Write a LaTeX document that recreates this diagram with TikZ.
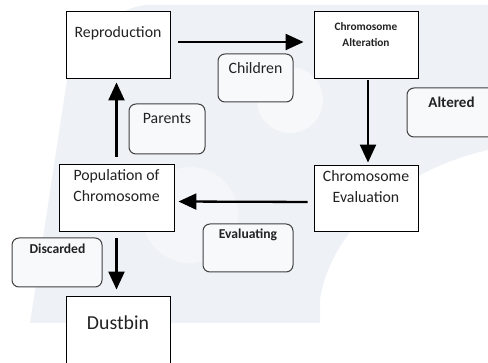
\documentclass[tikz,border=0pt]{standalone}
\usepackage{fontspec}
\setmainfont{Carlito}
\usetikzlibrary{arrows.meta}
\definecolor{wm}{HTML}{EEF1F5}
\definecolor{txt}{HTML}{222222}
\tikzset{
  box/.style={draw=black, line width=0.9pt, fill=white, inner sep=0pt},
  tag/.style={draw=black!75, line width=1pt, rounded corners=7pt, fill=wm!40, inner sep=0pt},
  lbl/.style={text=txt, inner sep=0pt, align=center, font=\fontsize{15.8}{21}\selectfont},
  slbl/.style={text=txt, inner sep=0pt, align=center, font=\bfseries\fontsize{13.6}{17}\selectfont},
  arr/.style={line width=2.3pt, -{Triangle[width=16pt,length=18pt]}},
}
\begin{document}
\begin{tikzpicture}[x=1pt,y=-1pt]
\useasboundingbox (0,0) rectangle (488,363);
% faint watermark background
\fill[wm] (145,5) -- (488,5) -- (488,150) .. controls (400,170) and (330,230) .. (320,300) -- (320,323) -- (30,323) -- (70,60) .. controls (90,30) and (120,8) .. (145,5) -- cycle;
\fill[white, opacity=0.55] (290,100) circle (33);
\fill[white, opacity=0.4] (190,215) circle (48);
% boxes
\node[box, minimum width=104pt, minimum height=67pt] (rep) at (118,44.5) {};
\node[lbl] (repT) at (118,33) {Reproduction};
\node[box, minimum width=104pt, minimum height=67pt] (alt) at (366,44.5) {};
\node[slbl, font=\bfseries\fontsize{11.3}{15.5}\selectfont] (altT) at (366,34.5) {Chromosome\\Alteration};
\node[box, minimum width=104pt, minimum height=66pt] (eval) at (366,198) {};
\node[lbl] (evalT) at (366,187) {Chromosome\\Evaluation};
\node[box, minimum width=115pt, minimum height=67pt] (pop) at (116.5,197.5) {};
\node[lbl] (popT) at (116.5,186) {Population of\\Chromosome};
\node[box, minimum width=104pt, minimum height=67pt] (dust) at (118,329.5) {};
\node[lbl, font=\fontsize{19.8}{24}\selectfont] (dustT) at (118,323) {Dustbin};
% tags
\node[tag, minimum width=75pt, minimum height=48pt] (chil) at (255.5,78) {};
\node[lbl] (chilT) at (255.5,68) {Children};
\node[tag, minimum width=76pt, minimum height=50pt] (par) at (167,129) {};
\node[lbl] (parT) at (167,118) {Parents};
\node[tag, minimum width=90pt, minimum height=49pt] (alte) at (452,112.5) {};
\node[slbl, font=\bfseries\fontsize{15}{18}\selectfont] (alteT) at (451.5,102) {Altered};
\node[tag, minimum width=90pt, minimum height=48pt] (evl) at (248,248) {};
\node[slbl] (evlT) at (248,235) {Evaluating};
\node[tag, minimum width=90pt, minimum height=49pt] (disc) at (57,262.5) {};
\node[slbl] (discT) at (57.5,249) {Discarded};
% arrows
\draw[arr, shorten <=8pt, shorten >=10pt] ([yshift=2.5pt]rep.east) -- ([yshift=2.5pt]alt.west);
\draw[arr, shorten <=2pt, shorten >=2pt] ([xshift=2pt]alt.south) -- ([xshift=2pt]eval.north);
\draw[arr, shorten <=6pt, shorten >=4pt] ([yshift=-4pt]eval.west) -- ([yshift=-4pt]pop.east);
\draw[arr, shorten <=7pt, shorten >=4pt] (pop.north) -- (pop.north |- rep.south);
\draw[arr, shorten <=7pt, shorten >=6pt] (pop.south) -- (pop.south |- dust.north);
\end{tikzpicture}
\end{document}
